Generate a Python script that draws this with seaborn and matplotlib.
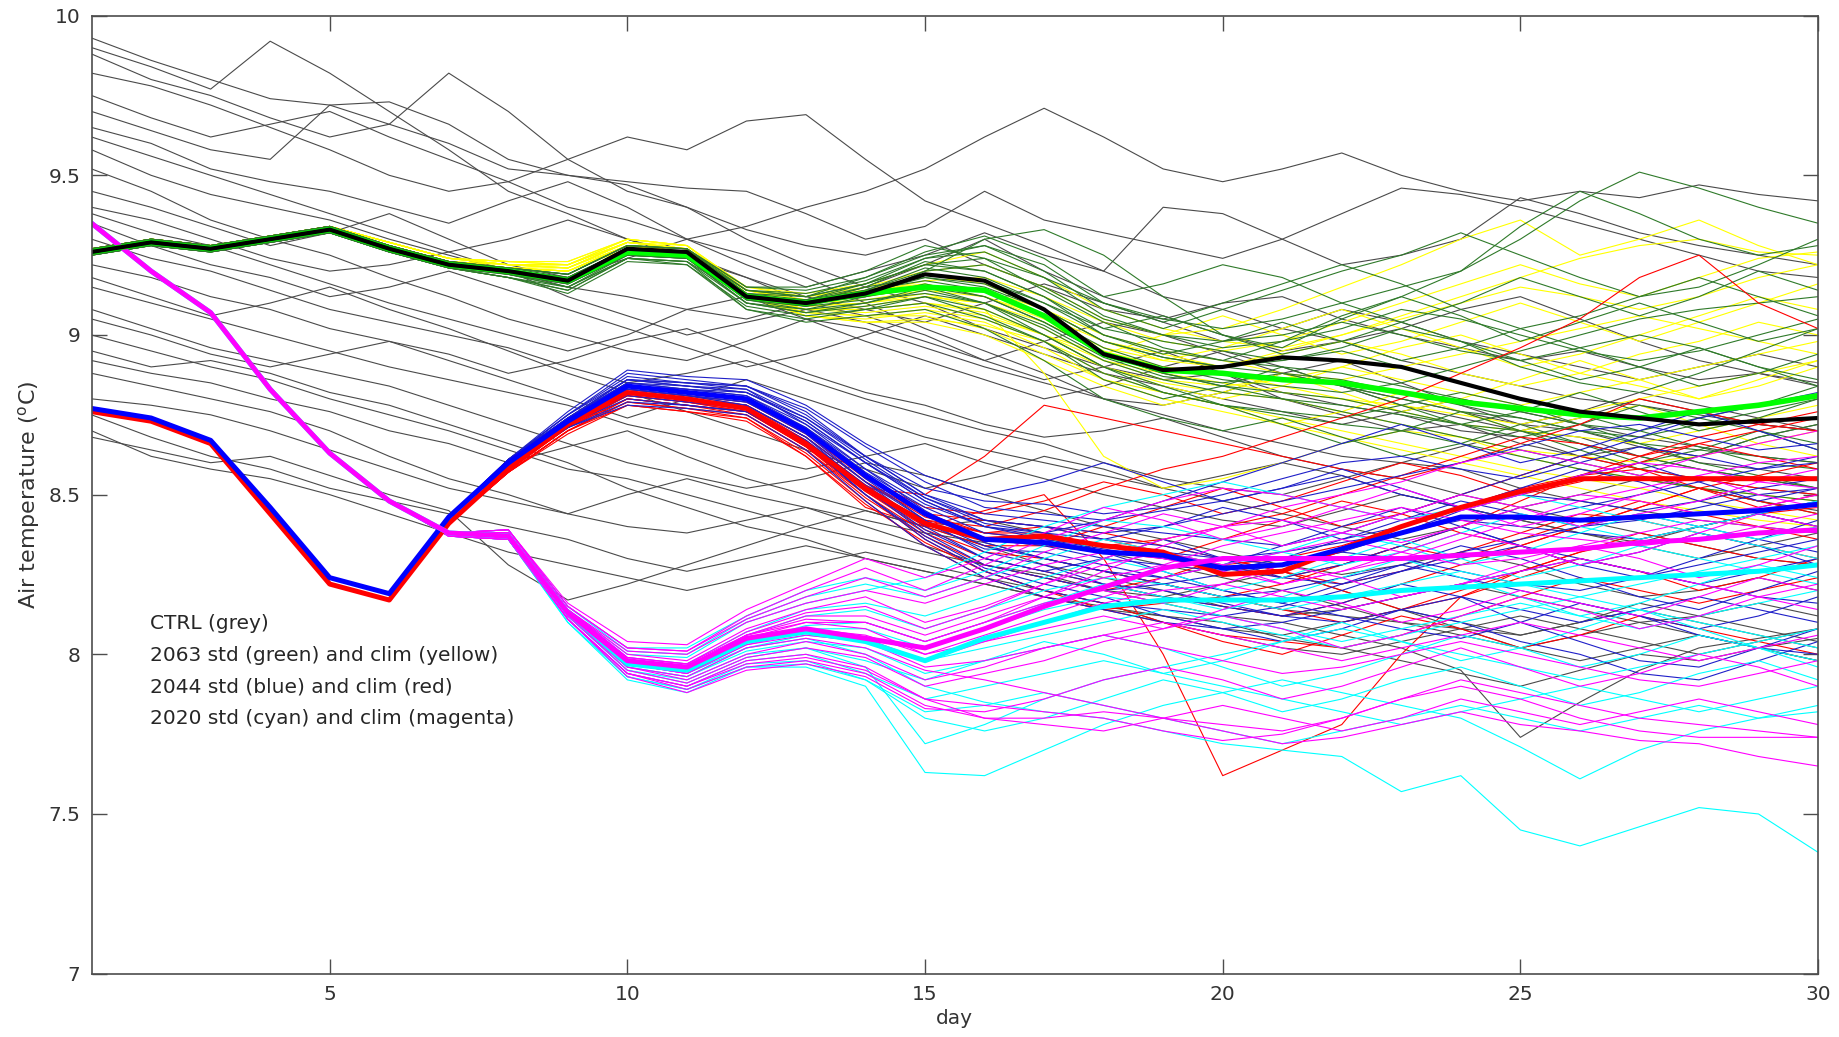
import pandas as pd
import matplotlib
matplotlib.use('Agg')
import matplotlib.pyplot as plt
import seaborn as sns

days = list(range(1, 31))

# CTRL ensemble (grey)
ctrl_runs = [
    [9.93, 9.86, 9.80, 9.74, 9.72, 9.73, 9.66, 9.55, 9.50, 9.47, 9.40, 9.30, 9.22, 9.15, 9.10, 9.02, 8.96, 8.90, 8.86, 8.88, 8.80, 8.75, 8.70, 8.72, 8.66, 8.62, 8.65, 8.60, 8.58, 8.55],
    [9.90, 9.84, 9.77, 9.92, 9.82, 9.70, 9.58, 9.45, 9.38, 9.30, 9.25, 9.18, 9.10, 9.06, 9.00, 8.92, 8.86, 8.90, 8.95, 8.88, 8.82, 8.78, 8.75, 8.70, 8.68, 8.62, 8.58, 8.55, 8.52, 8.50],
    [9.88, 9.80, 9.75, 9.68, 9.62, 9.66, 9.82, 9.70, 9.55, 9.45, 9.40, 9.33, 9.28, 9.25, 9.30, 9.22, 9.15, 9.08, 9.05, 9.10, 9.12, 9.05, 9.00, 8.96, 8.92, 8.95, 8.90, 8.86, 8.88, 8.84],
    [9.82, 9.78, 9.72, 9.65, 9.58, 9.50, 9.45, 9.48, 9.55, 9.62, 9.58, 9.67, 9.69, 9.55, 9.42, 9.35, 9.28, 9.20, 9.12, 9.08, 9.02, 8.98, 8.92, 8.88, 8.84, 8.80, 8.78, 8.75, 8.72, 8.70],
    [9.75, 9.68, 9.62, 9.66, 9.70, 9.62, 9.55, 9.48, 9.40, 9.36, 9.30, 9.34, 9.40, 9.45, 9.52, 9.62, 9.71, 9.62, 9.52, 9.48, 9.52, 9.57, 9.50, 9.45, 9.42, 9.45, 9.43, 9.47, 9.44, 9.42],
    [9.70, 9.64, 9.58, 9.55, 9.72, 9.66, 9.60, 9.52, 9.50, 9.48, 9.46, 9.45, 9.38, 9.30, 9.34, 9.45, 9.36, 9.32, 9.28, 9.24, 9.30, 9.38, 9.46, 9.44, 9.40, 9.35, 9.30, 9.25, 9.20, 9.18],
    [9.65, 9.60, 9.52, 9.48, 9.45, 9.40, 9.35, 9.42, 9.48, 9.40, 9.30, 9.22, 9.15, 9.20, 9.25, 9.32, 9.25, 9.20, 9.40, 9.38, 9.30, 9.22, 9.25, 9.30, 9.43, 9.38, 9.32, 9.28, 9.25, 9.22],
    [9.58, 9.50, 9.44, 9.40, 9.36, 9.30, 9.25, 9.20, 9.15, 9.12, 9.08, 9.05, 9.10, 9.15, 9.22, 9.30, 9.20, 9.12, 9.06, 9.00, 8.95, 8.98, 9.02, 9.08, 9.12, 9.05, 8.98, 8.92, 8.88, 8.85],
    [9.52, 9.45, 9.36, 9.30, 9.25, 9.18, 9.12, 9.05, 9.00, 8.95, 8.92, 8.98, 9.05, 9.02, 8.96, 8.90, 8.85, 8.80, 8.78, 8.82, 8.88, 8.92, 8.85, 8.78, 8.72, 8.70, 8.65, 8.62, 8.68, 8.72],
    [9.45, 9.40, 9.34, 9.28, 9.32, 9.38, 9.30, 9.22, 9.18, 9.24, 9.30, 9.25, 9.18, 9.10, 9.02, 8.95, 8.88, 8.80, 8.75, 8.70, 8.66, 8.62, 8.60, 8.65, 8.70, 8.68, 8.62, 8.58, 8.55, 8.52],
    [9.38, 9.32, 9.28, 9.22, 9.16, 9.10, 9.05, 9.00, 8.95, 9.00, 9.08, 9.12, 9.05, 8.98, 8.92, 8.86, 8.80, 8.84, 8.90, 8.95, 8.90, 8.84, 8.78, 8.74, 8.70, 8.74, 8.80, 8.76, 8.72, 8.70],
    [9.30, 9.24, 9.20, 9.14, 9.08, 9.04, 9.00, 8.96, 8.90, 8.85, 8.88, 8.92, 8.86, 8.80, 8.75, 8.70, 8.66, 8.60, 8.55, 8.52, 8.50, 8.55, 8.60, 8.58, 8.52, 8.48, 8.45, 8.42, 8.40, 8.38],
    [9.22, 9.18, 9.12, 9.08, 9.02, 8.98, 8.94, 8.88, 8.92, 8.98, 9.02, 8.95, 8.88, 8.82, 8.78, 8.72, 8.68, 8.70, 8.74, 8.68, 8.62, 8.58, 8.55, 8.50, 8.46, 8.50, 8.55, 8.52, 8.48, 8.45],
    [9.15, 9.10, 9.05, 9.00, 8.95, 8.90, 8.86, 8.82, 8.78, 8.72, 8.68, 8.62, 8.58, 8.62, 8.66, 8.60, 8.55, 8.50, 8.46, 8.42, 8.40, 8.45, 8.50, 8.46, 8.42, 8.38, 8.35, 8.40, 8.44, 8.40],
    [9.08, 9.02, 8.96, 8.92, 8.88, 8.84, 8.78, 8.72, 8.66, 8.60, 8.56, 8.52, 8.55, 8.60, 8.56, 8.50, 8.45, 8.40, 8.36, 8.32, 8.28, 8.25, 8.28, 8.32, 8.28, 8.22, 8.18, 8.20, 8.24, 8.20],
    [9.00, 8.95, 8.90, 8.86, 8.80, 8.75, 8.70, 8.64, 8.58, 8.55, 8.50, 8.45, 8.40, 8.36, 8.32, 8.28, 8.25, 8.20, 8.18, 8.22, 8.26, 8.20, 8.14, 8.10, 8.06, 8.10, 8.14, 8.10, 8.06, 8.02],
    [8.95, 8.90, 8.92, 8.88, 8.82, 8.78, 8.72, 8.66, 8.60, 8.52, 8.46, 8.40, 8.36, 8.30, 8.26, 8.22, 8.18, 8.15, 8.12, 8.10, 8.05, 8.02, 7.98, 7.94, 7.90, 7.95, 8.00, 7.98, 8.02, 8.05],
    [8.92, 8.88, 8.85, 8.80, 8.76, 8.70, 8.66, 8.60, 8.65, 8.70, 8.62, 8.55, 8.50, 8.45, 8.40, 8.42, 8.38, 8.32, 8.28, 8.24, 8.20, 8.15, 8.10, 8.06, 8.02, 8.06, 8.10, 8.06, 8.02, 7.98],
    [8.88, 8.84, 8.80, 8.76, 8.70, 8.62, 8.55, 8.50, 8.44, 8.40, 8.38, 8.42, 8.46, 8.40, 8.34, 8.28, 8.24, 8.20, 8.16, 8.12, 8.10, 8.06, 8.02, 7.95, 7.74, 7.85, 7.95, 8.02, 8.05, 8.08],
    [8.80, 8.78, 8.75, 8.70, 8.64, 8.58, 8.52, 8.48, 8.44, 8.50, 8.55, 8.50, 8.46, 8.42, 8.38, 8.35, 8.30, 8.26, 8.22, 8.18, 8.14, 8.12, 8.10, 8.08, 8.06, 8.10, 8.16, 8.12, 8.08, 8.04],
    [8.75, 8.68, 8.62, 8.58, 8.52, 8.48, 8.44, 8.40, 8.36, 8.30, 8.26, 8.30, 8.34, 8.30, 8.26, 8.22, 8.18, 8.14, 8.12, 8.08, 8.06, 8.10, 8.14, 8.08, 8.02, 7.98, 8.02, 8.06, 8.02, 7.98],
    [8.70, 8.62, 8.58, 8.55, 8.50, 8.44, 8.38, 8.32, 8.28, 8.24, 8.20, 8.24, 8.28, 8.32, 8.28, 8.24, 8.20, 8.16, 8.10, 8.06, 8.02, 8.00, 8.04, 8.08, 8.12, 8.08, 8.04, 8.00, 8.04, 8.08],
    [8.68, 8.64, 8.60, 8.62, 8.56, 8.50, 8.45, 8.28, 8.17, 8.22, 8.28, 8.34, 8.40, 8.45, 8.40, 8.34, 8.28, 8.24, 8.20, 8.15, 8.12, 8.14, 8.18, 8.22, 8.18, 8.14, 8.10, 8.12, 8.16, 8.12],
    [9.35, 9.28, 9.22, 9.18, 9.12, 9.15, 9.20, 9.14, 9.08, 9.02, 8.96, 8.90, 8.94, 9.00, 9.06, 9.00, 8.94, 8.88, 8.84, 8.80, 8.76, 8.72, 8.76, 8.80, 8.76, 8.72, 8.68, 8.65, 8.62, 8.60],
    [9.18, 9.12, 9.06, 9.10, 9.15, 9.08, 9.02, 8.95, 8.88, 8.82, 8.76, 8.70, 8.64, 8.58, 8.52, 8.56, 8.62, 8.58, 8.52, 8.48, 8.44, 8.40, 8.36, 8.40, 8.46, 8.42, 8.38, 8.34, 8.30, 8.28],
    [9.05, 9.00, 8.94, 8.90, 8.94, 8.98, 8.92, 8.86, 8.80, 8.74, 8.80, 8.86, 8.80, 8.74, 8.68, 8.64, 8.60, 8.56, 8.52, 8.56, 8.60, 8.56, 8.50, 8.46, 8.42, 8.38, 8.34, 8.30, 8.34, 8.38],
    [9.62, 9.56, 9.50, 9.44, 9.38, 9.32, 9.26, 9.30, 9.36, 9.30, 9.24, 9.18, 9.12, 9.08, 9.04, 9.10, 9.16, 9.10, 9.04, 8.98, 9.02, 9.08, 9.04, 8.98, 8.94, 8.90, 8.86, 8.90, 8.94, 8.90],
    [9.40, 9.36, 9.30, 9.24, 9.20, 9.22, 9.26, 9.20, 9.12, 9.06, 9.00, 9.04, 9.08, 9.04, 8.98, 8.92, 8.98, 9.04, 9.00, 8.94, 8.88, 8.84, 8.80, 8.76, 8.72, 8.76, 8.82, 8.78, 8.74, 8.70],
]

# 2063 std (green) and clim (yellow)
std_2063_runs = [
    [9.27, 9.30, 9.28, 9.31, 9.34, 9.28, 9.23, 9.21, 9.19, 9.28, 9.27, 9.15, 9.14, 9.18, 9.25, 9.28, 9.22, 9.10, 9.05, 9.02, 9.05, 9.10, 9.15, 9.20, 9.30, 9.42, 9.51, 9.46, 9.40, 9.35],
    [9.26, 9.29, 9.27, 9.30, 9.33, 9.27, 9.22, 9.19, 9.16, 9.25, 9.24, 9.10, 9.08, 9.12, 9.20, 9.30, 9.33, 9.25, 9.12, 9.00, 8.96, 9.05, 9.12, 9.20, 9.34, 9.45, 9.38, 9.30, 9.25, 9.28],
    [9.25, 9.28, 9.26, 9.29, 9.32, 9.26, 9.21, 9.18, 9.14, 9.24, 9.23, 9.08, 9.05, 9.08, 9.12, 9.08, 9.00, 8.90, 8.82, 8.78, 8.75, 8.72, 8.70, 8.66, 8.62, 8.58, 8.55, 8.52, 8.50, 8.48],
    [9.27, 9.30, 9.28, 9.31, 9.34, 9.28, 9.23, 9.20, 9.18, 9.27, 9.26, 9.14, 9.12, 9.16, 9.22, 9.20, 9.12, 9.02, 8.98, 8.95, 8.92, 8.96, 9.02, 8.98, 8.90, 8.85, 8.82, 8.88, 8.95, 9.02],
    [9.26, 9.29, 9.27, 9.30, 9.33, 9.27, 9.22, 9.20, 9.17, 9.26, 9.25, 9.11, 9.08, 9.10, 9.14, 9.10, 9.02, 8.92, 8.86, 8.82, 8.80, 8.78, 8.75, 8.72, 8.68, 8.72, 8.78, 8.74, 8.70, 8.66],
    [9.25, 9.28, 9.26, 9.29, 9.32, 9.26, 9.21, 9.19, 9.15, 9.25, 9.24, 9.12, 9.11, 9.15, 9.18, 9.15, 9.08, 8.98, 8.93, 8.90, 8.92, 8.95, 8.90, 8.85, 8.80, 8.75, 8.70, 8.65, 8.60, 8.58],
    [9.26, 9.29, 9.27, 9.30, 9.33, 9.27, 9.22, 9.20, 9.18, 9.27, 9.26, 9.13, 9.11, 9.14, 9.17, 9.14, 9.06, 8.96, 8.90, 8.86, 8.84, 8.82, 8.85, 8.90, 8.95, 9.00, 9.05, 9.08, 9.10, 9.12],
    [9.27, 9.30, 9.28, 9.31, 9.34, 9.28, 9.23, 9.21, 9.19, 9.28, 9.27, 9.13, 9.10, 9.12, 9.16, 9.12, 9.04, 8.94, 8.88, 8.84, 8.80, 8.76, 8.72, 8.68, 8.64, 8.60, 8.56, 8.52, 8.48, 8.44],
    [9.26, 9.29, 9.27, 9.30, 9.33, 9.27, 9.22, 9.19, 9.16, 9.26, 9.25, 9.12, 9.10, 9.14, 9.20, 9.22, 9.15, 9.05, 9.00, 8.98, 9.00, 9.04, 9.00, 8.95, 8.92, 8.96, 9.00, 8.96, 8.90, 8.86],
    [9.25, 9.28, 9.26, 9.29, 9.32, 9.26, 9.21, 9.18, 9.13, 9.23, 9.22, 9.09, 9.06, 9.08, 9.10, 9.05, 8.98, 8.88, 8.82, 8.78, 8.76, 8.74, 8.78, 8.82, 8.78, 8.72, 8.66, 8.60, 8.56, 8.52],
    [9.26, 9.29, 9.27, 9.30, 9.33, 9.27, 9.22, 9.20, 9.17, 9.26, 9.25, 9.13, 9.12, 9.16, 9.24, 9.28, 9.20, 9.08, 9.02, 9.08, 9.14, 9.20, 9.25, 9.32, 9.25, 9.18, 9.12, 9.15, 9.22, 9.30],
    [9.27, 9.30, 9.28, 9.31, 9.34, 9.28, 9.23, 9.21, 9.18, 9.27, 9.26, 9.12, 9.09, 9.11, 9.13, 9.10, 9.03, 8.93, 8.87, 8.85, 8.88, 8.84, 8.80, 8.76, 8.74, 8.70, 8.68, 8.72, 8.76, 8.80],
    [9.26, 9.29, 9.27, 9.30, 9.33, 9.27, 9.22, 9.20, 9.17, 9.26, 9.25, 9.11, 9.09, 9.13, 9.19, 9.17, 9.10, 9.00, 8.95, 8.92, 8.90, 8.88, 8.84, 8.80, 8.76, 8.72, 8.70, 8.74, 8.78, 8.84],
    [9.25, 9.28, 9.26, 9.29, 9.32, 9.26, 9.21, 9.18, 9.15, 9.24, 9.23, 9.10, 9.07, 9.10, 9.15, 9.12, 9.04, 8.94, 8.88, 8.84, 8.82, 8.80, 8.76, 8.72, 8.70, 8.66, 8.62, 8.58, 8.55, 8.52],
    [9.26, 9.29, 9.27, 9.30, 9.33, 9.27, 9.22, 9.20, 9.17, 9.26, 9.25, 9.12, 9.10, 9.13, 9.18, 9.16, 9.08, 8.98, 8.93, 8.90, 8.88, 8.86, 8.82, 8.78, 8.74, 8.70, 8.66, 8.64, 8.62, 8.60],
    [9.27, 9.30, 9.28, 9.31, 9.34, 9.28, 9.23, 9.21, 9.19, 9.28, 9.27, 9.14, 9.13, 9.17, 9.24, 9.26, 9.18, 9.06, 9.00, 8.96, 8.98, 9.02, 9.08, 9.05, 9.00, 8.95, 8.92, 8.95, 9.00, 9.05],
    [9.26, 9.29, 9.27, 9.30, 9.33, 9.27, 9.22, 9.20, 9.17, 9.27, 9.26, 9.14, 9.12, 9.18, 9.26, 9.31, 9.24, 9.12, 9.16, 9.22, 9.18, 9.10, 9.04, 9.10, 9.18, 9.12, 9.06, 9.12, 9.20, 9.14],
    [9.25, 9.28, 9.26, 9.29, 9.32, 9.26, 9.21, 9.18, 9.14, 9.24, 9.22, 9.08, 9.04, 9.06, 9.08, 9.02, 8.92, 8.80, 8.74, 8.70, 8.74, 8.68, 8.62, 8.66, 8.72, 8.66, 8.60, 8.64, 8.70, 8.64],
    [9.26, 9.29, 9.27, 9.30, 9.33, 9.27, 9.22, 9.19, 9.16, 9.25, 9.24, 9.11, 9.09, 9.14, 9.21, 9.18, 9.10, 9.02, 9.06, 9.00, 8.94, 8.98, 9.04, 8.98, 8.92, 8.86, 8.90, 8.96, 8.90, 8.84],
    [9.27, 9.30, 9.28, 9.31, 9.34, 9.28, 9.23, 9.21, 9.19, 9.28, 9.27, 9.15, 9.15, 9.20, 9.28, 9.24, 9.14, 9.04, 8.96, 8.92, 8.98, 9.06, 9.12, 9.06, 8.98, 9.04, 9.10, 9.04, 8.98, 9.02],
    [9.26, 9.29, 9.27, 9.30, 9.33, 9.27, 9.22, 9.20, 9.16, 9.25, 9.24, 9.10, 9.07, 9.09, 9.12, 9.06, 8.98, 8.86, 8.80, 8.84, 8.90, 8.84, 8.78, 8.72, 8.76, 8.82, 8.76, 8.70, 8.74, 8.80],
    [9.25, 9.28, 9.26, 9.29, 9.32, 9.26, 9.21, 9.19, 9.15, 9.24, 9.23, 9.12, 9.11, 9.16, 9.22, 9.24, 9.18, 9.10, 9.04, 9.10, 9.16, 9.22, 9.16, 9.08, 9.02, 9.06, 9.12, 9.18, 9.12, 9.06],
    [9.27, 9.30, 9.28, 9.31, 9.34, 9.28, 9.23, 9.20, 9.18, 9.27, 9.26, 9.13, 9.10, 9.12, 9.15, 9.10, 9.00, 8.90, 8.84, 8.78, 8.72, 8.66, 8.70, 8.76, 8.70, 8.64, 8.58, 8.62, 8.68, 8.72],
    [9.26, 9.29, 9.27, 9.30, 9.33, 9.27, 9.22, 9.20, 9.17, 9.26, 9.25, 9.12, 9.10, 9.15, 9.23, 9.20, 9.12, 9.00, 8.94, 8.98, 9.04, 8.98, 8.92, 8.96, 9.02, 8.96, 8.90, 8.84, 8.88, 8.94],
]
clim_2063_runs = [
    [9.27, 9.30, 9.28, 9.31, 9.34, 9.29, 9.24, 9.22, 9.22, 9.29, 9.27, 9.14, 9.12, 9.15, 9.20, 9.22, 9.15, 9.05, 9.00, 9.02, 9.08, 9.15, 9.22, 9.30, 9.36, 9.25, 9.30, 9.36, 9.28, 9.22],
    [9.26, 9.29, 9.27, 9.30, 9.33, 9.28, 9.23, 9.21, 9.20, 9.28, 9.26, 9.12, 9.08, 9.08, 9.10, 9.08, 8.88, 8.62, 8.52, 8.55, 8.60, 8.66, 8.70, 8.68, 8.62, 8.58, 8.55, 8.52, 8.50, 8.48],
    [9.27, 9.30, 9.28, 9.31, 9.34, 9.29, 9.24, 9.23, 9.23, 9.30, 9.28, 9.15, 9.12, 9.14, 9.16, 9.12, 9.05, 8.96, 8.92, 8.90, 8.95, 9.00, 9.05, 9.10, 9.15, 9.12, 9.08, 9.12, 9.18, 9.22],
    [9.26, 9.29, 9.27, 9.30, 9.33, 9.28, 9.23, 9.21, 9.21, 9.28, 9.27, 9.13, 9.06, 9.04, 9.05, 9.03, 8.98, 8.90, 8.85, 8.82, 8.80, 8.76, 8.72, 8.68, 8.64, 8.62, 8.60, 8.62, 8.66, 8.70],
    [9.27, 9.30, 9.28, 9.31, 9.34, 9.29, 9.24, 9.22, 9.22, 9.29, 9.28, 9.14, 9.10, 9.12, 9.15, 9.14, 9.08, 9.00, 8.95, 8.92, 8.88, 8.86, 8.90, 8.94, 8.98, 9.02, 9.06, 9.02, 8.98, 8.94],
    [9.26, 9.29, 9.27, 9.30, 9.33, 9.28, 9.23, 9.21, 9.20, 9.27, 9.26, 9.12, 9.07, 9.06, 9.08, 9.05, 8.98, 8.88, 8.82, 8.78, 8.74, 8.70, 8.66, 8.62, 8.58, 8.55, 8.52, 8.48, 8.45, 8.42],
    [9.27, 9.30, 9.28, 9.31, 9.34, 9.29, 9.24, 9.23, 9.22, 9.30, 9.28, 9.15, 9.13, 9.16, 9.22, 9.26, 9.18, 9.08, 9.02, 8.98, 8.96, 9.00, 9.06, 9.12, 9.18, 9.24, 9.28, 9.30, 9.26, 9.25],
    [9.26, 9.29, 9.27, 9.30, 9.33, 9.28, 9.23, 9.22, 9.21, 9.29, 9.27, 9.13, 9.08, 9.07, 9.09, 9.06, 9.00, 8.92, 8.88, 8.85, 8.82, 8.80, 8.78, 8.75, 8.72, 8.76, 8.80, 8.84, 8.88, 8.92],
    [9.27, 9.30, 9.28, 9.31, 9.34, 9.29, 9.24, 9.22, 9.21, 9.29, 9.27, 9.13, 9.09, 9.10, 9.12, 9.10, 9.02, 8.92, 8.86, 8.84, 8.86, 8.90, 8.86, 8.82, 8.78, 8.82, 8.86, 8.90, 8.94, 8.98],
    [9.26, 9.29, 9.27, 9.30, 9.33, 9.28, 9.23, 9.21, 9.20, 9.28, 9.26, 9.12, 9.06, 9.05, 9.07, 9.04, 8.96, 8.86, 8.80, 8.76, 8.72, 8.68, 8.64, 8.60, 8.56, 8.52, 8.48, 8.45, 8.42, 8.40],
    [9.27, 9.30, 9.28, 9.31, 9.34, 9.29, 9.24, 9.23, 9.23, 9.30, 9.28, 9.14, 9.11, 9.13, 9.17, 9.18, 9.12, 9.04, 8.98, 8.95, 8.98, 9.04, 9.10, 9.16, 9.22, 9.16, 9.12, 9.18, 9.24, 9.26],
    [9.26, 9.29, 9.27, 9.30, 9.33, 9.28, 9.23, 9.21, 9.20, 9.28, 9.27, 9.13, 9.08, 9.09, 9.12, 9.10, 9.04, 8.95, 8.90, 8.88, 8.84, 8.80, 8.76, 8.72, 8.70, 8.68, 8.66, 8.70, 8.74, 8.78],
    [9.27, 9.30, 9.28, 9.31, 9.34, 9.29, 9.24, 9.22, 9.22, 9.29, 9.27, 9.13, 9.09, 9.10, 9.13, 9.08, 9.00, 8.94, 9.00, 9.06, 9.00, 8.94, 8.98, 9.04, 9.10, 9.04, 8.98, 9.04, 9.10, 9.16],
    [9.26, 9.29, 9.27, 9.30, 9.33, 9.28, 9.23, 9.21, 9.20, 9.28, 9.26, 9.12, 9.06, 9.04, 9.04, 9.00, 8.92, 8.84, 8.78, 8.82, 8.88, 8.82, 8.76, 8.80, 8.86, 8.92, 8.86, 8.80, 8.84, 8.90],
    [9.27, 9.30, 9.28, 9.31, 9.34, 9.29, 9.24, 9.22, 9.21, 9.29, 9.27, 9.14, 9.11, 9.14, 9.19, 9.16, 9.08, 8.98, 8.92, 8.96, 9.02, 9.08, 9.02, 8.96, 8.90, 8.94, 9.00, 9.06, 9.12, 9.08],
    [9.26, 9.29, 9.27, 9.30, 9.33, 9.28, 9.23, 9.21, 9.20, 9.28, 9.27, 9.12, 9.07, 9.06, 9.06, 9.02, 8.94, 8.86, 8.82, 8.78, 8.72, 8.76, 8.82, 8.76, 8.70, 8.74, 8.78, 8.72, 8.66, 8.62],
    [9.27, 9.30, 9.28, 9.31, 9.34, 9.29, 9.24, 9.23, 9.22, 9.30, 9.28, 9.14, 9.10, 9.11, 9.14, 9.12, 9.06, 8.98, 8.94, 8.90, 8.94, 8.98, 8.94, 8.88, 8.84, 8.88, 8.94, 8.98, 9.04, 9.00],
    [9.26, 9.29, 9.27, 9.30, 9.33, 9.28, 9.23, 9.22, 9.21, 9.29, 9.27, 9.13, 9.08, 9.08, 9.10, 9.07, 9.00, 8.90, 8.84, 8.80, 8.84, 8.90, 8.96, 9.00, 8.94, 8.88, 8.84, 8.80, 8.86, 8.92],
]

# 2044 std (blue) and clim (red)
std_2044_runs = [
    [8.77, 8.74, 8.67, 8.46, 8.24, 8.19, 8.43, 8.61, 8.75, 8.88, 8.86, 8.84, 8.76, 8.62, 8.52, 8.48, 8.47, 8.44, 8.46, 8.50, 8.55, 8.60, 8.62, 8.58, 8.55, 8.60, 8.65, 8.62, 8.58, 8.60],
    [8.77, 8.74, 8.67, 8.46, 8.24, 8.19, 8.43, 8.60, 8.73, 8.84, 8.82, 8.80, 8.70, 8.55, 8.42, 8.32, 8.28, 8.22, 8.18, 8.15, 8.12, 8.10, 8.14, 8.18, 8.10, 8.04, 7.98, 7.96, 8.02, 8.08],
    [8.77, 8.74, 8.67, 8.46, 8.24, 8.19, 8.43, 8.60, 8.74, 8.86, 8.84, 8.82, 8.73, 8.60, 8.48, 8.40, 8.38, 8.36, 8.34, 8.30, 8.28, 8.32, 8.38, 8.45, 8.50, 8.48, 8.45, 8.48, 8.52, 8.55],
    [8.77, 8.74, 8.67, 8.46, 8.24, 8.19, 8.43, 8.59, 8.72, 8.82, 8.80, 8.78, 8.68, 8.52, 8.38, 8.28, 8.24, 8.20, 8.22, 8.25, 8.28, 8.32, 8.30, 8.26, 8.22, 8.20, 8.24, 8.28, 8.32, 8.36],
    [8.77, 8.74, 8.67, 8.46, 8.24, 8.19, 8.43, 8.60, 8.73, 8.84, 8.83, 8.82, 8.74, 8.62, 8.50, 8.42, 8.40, 8.38, 8.40, 8.44, 8.48, 8.52, 8.56, 8.60, 8.65, 8.70, 8.72, 8.68, 8.64, 8.66],
    [8.77, 8.74, 8.67, 8.46, 8.24, 8.19, 8.43, 8.61, 8.74, 8.85, 8.84, 8.83, 8.72, 8.58, 8.45, 8.35, 8.30, 8.26, 8.24, 8.20, 8.16, 8.12, 8.08, 8.05, 8.10, 8.16, 8.12, 8.06, 8.02, 8.00],
    [8.77, 8.74, 8.67, 8.46, 8.24, 8.19, 8.43, 8.60, 8.73, 8.83, 8.81, 8.79, 8.70, 8.56, 8.44, 8.36, 8.34, 8.30, 8.28, 8.26, 8.30, 8.36, 8.42, 8.48, 8.44, 8.40, 8.42, 8.46, 8.50, 8.52],
    [8.77, 8.74, 8.67, 8.46, 8.24, 8.19, 8.43, 8.59, 8.72, 8.80, 8.78, 8.76, 8.66, 8.50, 8.36, 8.26, 8.20, 8.16, 8.14, 8.12, 8.15, 8.20, 8.26, 8.32, 8.36, 8.40, 8.44, 8.40, 8.36, 8.32],
    [8.77, 8.74, 8.67, 8.46, 8.24, 8.19, 8.43, 8.61, 8.75, 8.87, 8.85, 8.84, 8.75, 8.62, 8.50, 8.44, 8.42, 8.40, 8.38, 8.36, 8.34, 8.38, 8.44, 8.50, 8.56, 8.62, 8.68, 8.74, 8.78, 8.82],
    [8.77, 8.74, 8.67, 8.46, 8.24, 8.19, 8.43, 8.60, 8.73, 8.84, 8.82, 8.80, 8.71, 8.57, 8.46, 8.38, 8.36, 8.33, 8.30, 8.27, 8.24, 8.22, 8.26, 8.30, 8.34, 8.30, 8.26, 8.22, 8.18, 8.16],
    [8.77, 8.74, 8.67, 8.46, 8.24, 8.19, 8.43, 8.60, 8.74, 8.85, 8.83, 8.81, 8.72, 8.60, 8.48, 8.40, 8.37, 8.34, 8.32, 8.30, 8.32, 8.35, 8.38, 8.42, 8.40, 8.38, 8.36, 8.40, 8.44, 8.48],
    [8.77, 8.74, 8.67, 8.46, 8.24, 8.19, 8.43, 8.60, 8.73, 8.83, 8.81, 8.78, 8.68, 8.54, 8.42, 8.34, 8.30, 8.26, 8.22, 8.18, 8.20, 8.24, 8.28, 8.24, 8.20, 8.16, 8.12, 8.08, 8.12, 8.18],
    [8.77, 8.74, 8.67, 8.46, 8.24, 8.19, 8.43, 8.61, 8.74, 8.86, 8.85, 8.84, 8.77, 8.65, 8.54, 8.46, 8.44, 8.42, 8.45, 8.48, 8.52, 8.56, 8.50, 8.46, 8.42, 8.46, 8.50, 8.54, 8.58, 8.62],
    [8.77, 8.74, 8.67, 8.46, 8.24, 8.19, 8.43, 8.59, 8.71, 8.78, 8.77, 8.75, 8.64, 8.48, 8.34, 8.24, 8.18, 8.14, 8.10, 8.08, 8.10, 8.14, 8.18, 8.22, 8.26, 8.30, 8.26, 8.22, 8.26, 8.30],
    [8.77, 8.74, 8.67, 8.46, 8.24, 8.19, 8.43, 8.61, 8.76, 8.89, 8.87, 8.86, 8.78, 8.66, 8.56, 8.50, 8.54, 8.60, 8.54, 8.48, 8.52, 8.58, 8.52, 8.46, 8.50, 8.56, 8.60, 8.54, 8.48, 8.52],
    [8.77, 8.74, 8.67, 8.46, 8.24, 8.19, 8.43, 8.60, 8.73, 8.83, 8.81, 8.79, 8.69, 8.54, 8.40, 8.30, 8.26, 8.30, 8.36, 8.30, 8.24, 8.28, 8.34, 8.40, 8.34, 8.28, 8.32, 8.38, 8.34, 8.28],
    [8.77, 8.74, 8.67, 8.46, 8.24, 8.19, 8.43, 8.59, 8.71, 8.79, 8.78, 8.76, 8.66, 8.50, 8.37, 8.27, 8.22, 8.18, 8.12, 8.08, 8.04, 8.08, 8.14, 8.10, 8.04, 8.00, 7.94, 7.92, 7.98, 8.04],
    [8.77, 8.74, 8.67, 8.46, 8.24, 8.19, 8.43, 8.61, 8.75, 8.86, 8.85, 8.83, 8.74, 8.61, 8.49, 8.41, 8.38, 8.42, 8.48, 8.54, 8.60, 8.66, 8.72, 8.66, 8.60, 8.64, 8.70, 8.76, 8.70, 8.64],
    [8.77, 8.74, 8.67, 8.46, 8.24, 8.19, 8.43, 8.60, 8.72, 8.82, 8.80, 8.77, 8.67, 8.53, 8.41, 8.33, 8.32, 8.28, 8.24, 8.28, 8.34, 8.40, 8.46, 8.40, 8.34, 8.28, 8.24, 8.30, 8.36, 8.42],
    [8.77, 8.74, 8.67, 8.46, 8.24, 8.19, 8.43, 8.60, 8.74, 8.85, 8.83, 8.81, 8.71, 8.58, 8.47, 8.40, 8.36, 8.32, 8.26, 8.20, 8.16, 8.22, 8.28, 8.34, 8.30, 8.24, 8.18, 8.14, 8.20, 8.26],
    [8.77, 8.74, 8.67, 8.46, 8.24, 8.19, 8.43, 8.61, 8.74, 8.86, 8.84, 8.82, 8.73, 8.60, 8.49, 8.42, 8.40, 8.36, 8.40, 8.46, 8.42, 8.36, 8.40, 8.46, 8.52, 8.58, 8.54, 8.48, 8.44, 8.40],
    [8.77, 8.74, 8.67, 8.46, 8.24, 8.19, 8.43, 8.59, 8.72, 8.81, 8.79, 8.77, 8.67, 8.52, 8.39, 8.30, 8.26, 8.22, 8.20, 8.16, 8.12, 8.16, 8.22, 8.18, 8.14, 8.10, 8.14, 8.18, 8.14, 8.10],
]
clim_2044_runs = [
    [8.76, 8.73, 8.66, 8.44, 8.22, 8.17, 8.41, 8.58, 8.72, 8.82, 8.80, 8.77, 8.66, 8.52, 8.50, 8.62, 8.78, 8.74, 8.70, 8.66, 8.62, 8.58, 8.55, 8.60, 8.66, 8.72, 8.80, 8.76, 8.72, 8.70],
    [8.76, 8.73, 8.66, 8.44, 8.22, 8.17, 8.41, 8.57, 8.70, 8.79, 8.77, 8.74, 8.62, 8.46, 8.40, 8.45, 8.50, 8.30, 8.00, 7.62, 7.70, 7.78, 8.00, 8.18, 8.26, 8.32, 8.38, 8.34, 8.30, 8.28],
    [8.76, 8.73, 8.66, 8.44, 8.22, 8.17, 8.41, 8.58, 8.72, 8.82, 8.80, 8.77, 8.66, 8.52, 8.42, 8.40, 8.45, 8.52, 8.58, 8.62, 8.68, 8.74, 8.80, 8.88, 8.96, 9.05, 9.18, 9.25, 9.10, 9.02],
    [8.76, 8.73, 8.66, 8.44, 8.22, 8.17, 8.41, 8.58, 8.71, 8.80, 8.78, 8.75, 8.64, 8.50, 8.38, 8.30, 8.26, 8.22, 8.18, 8.15, 8.12, 8.16, 8.22, 8.28, 8.34, 8.40, 8.46, 8.52, 8.56, 8.60],
    [8.76, 8.73, 8.66, 8.44, 8.22, 8.17, 8.41, 8.58, 8.72, 8.83, 8.81, 8.78, 8.68, 8.54, 8.44, 8.38, 8.36, 8.34, 8.36, 8.40, 8.44, 8.50, 8.56, 8.62, 8.68, 8.66, 8.62, 8.66, 8.70, 8.74],
    [8.76, 8.73, 8.66, 8.44, 8.22, 8.17, 8.41, 8.57, 8.70, 8.80, 8.78, 8.76, 8.65, 8.50, 8.36, 8.26, 8.20, 8.14, 8.10, 8.06, 8.04, 8.02, 8.06, 8.12, 8.18, 8.24, 8.20, 8.16, 8.20, 8.24],
    [8.76, 8.73, 8.66, 8.44, 8.22, 8.17, 8.41, 8.58, 8.72, 8.81, 8.79, 8.76, 8.65, 8.51, 8.40, 8.34, 8.34, 8.32, 8.30, 8.28, 8.30, 8.34, 8.40, 8.46, 8.52, 8.56, 8.58, 8.55, 8.52, 8.50],
    [8.76, 8.73, 8.66, 8.44, 8.22, 8.17, 8.41, 8.58, 8.71, 8.81, 8.79, 8.77, 8.66, 8.52, 8.42, 8.38, 8.40, 8.38, 8.34, 8.30, 8.26, 8.22, 8.26, 8.32, 8.38, 8.44, 8.42, 8.38, 8.34, 8.30],
    [8.76, 8.73, 8.66, 8.44, 8.22, 8.17, 8.41, 8.58, 8.72, 8.82, 8.80, 8.78, 8.67, 8.53, 8.44, 8.42, 8.40, 8.36, 8.32, 8.28, 8.24, 8.28, 8.34, 8.40, 8.48, 8.56, 8.62, 8.68, 8.72, 8.76],
    [8.76, 8.73, 8.66, 8.44, 8.22, 8.17, 8.41, 8.57, 8.70, 8.78, 8.76, 8.74, 8.63, 8.48, 8.34, 8.24, 8.18, 8.14, 8.16, 8.18, 8.14, 8.10, 8.14, 8.20, 8.26, 8.32, 8.36, 8.40, 8.44, 8.46],
    [8.76, 8.73, 8.66, 8.44, 8.22, 8.17, 8.41, 8.58, 8.72, 8.83, 8.81, 8.79, 8.69, 8.55, 8.46, 8.44, 8.48, 8.54, 8.50, 8.44, 8.48, 8.54, 8.60, 8.56, 8.50, 8.54, 8.60, 8.66, 8.62, 8.58],
    [8.76, 8.73, 8.66, 8.44, 8.22, 8.17, 8.41, 8.57, 8.70, 8.79, 8.77, 8.75, 8.64, 8.49, 8.37, 8.28, 8.24, 8.20, 8.24, 8.30, 8.26, 8.20, 8.14, 8.18, 8.24, 8.30, 8.26, 8.20, 8.24, 8.30],
    [8.76, 8.73, 8.66, 8.44, 8.22, 8.17, 8.41, 8.58, 8.71, 8.81, 8.79, 8.76, 8.66, 8.52, 8.41, 8.36, 8.34, 8.40, 8.46, 8.52, 8.46, 8.40, 8.44, 8.50, 8.56, 8.62, 8.58, 8.52, 8.46, 8.50],
    [8.76, 8.73, 8.66, 8.44, 8.22, 8.17, 8.41, 8.57, 8.69, 8.78, 8.76, 8.73, 8.62, 8.47, 8.35, 8.26, 8.20, 8.16, 8.10, 8.04, 8.00, 8.06, 8.12, 8.08, 8.02, 8.06, 8.12, 8.08, 8.04, 8.00],
    [8.76, 8.73, 8.66, 8.44, 8.22, 8.17, 8.41, 8.58, 8.72, 8.82, 8.80, 8.78, 8.68, 8.54, 8.43, 8.38, 8.38, 8.34, 8.30, 8.36, 8.42, 8.48, 8.44, 8.38, 8.34, 8.40, 8.46, 8.52, 8.48, 8.44],
    [8.76, 8.73, 8.66, 8.44, 8.22, 8.17, 8.41, 8.58, 8.71, 8.80, 8.78, 8.76, 8.65, 8.51, 8.39, 8.32, 8.30, 8.26, 8.22, 8.18, 8.22, 8.28, 8.34, 8.30, 8.36, 8.42, 8.48, 8.44, 8.40, 8.36],
]

# 2020 std (cyan) and clim (magenta)
std_2020_runs = [
    [9.35, 9.20, 9.07, 8.83, 8.63, 8.48, 8.38, 8.38, 8.13, 7.97, 7.94, 8.02, 8.05, 8.00, 7.90, 7.85, 7.82, 7.80, 7.76, 7.72, 7.70, 7.68, 7.57, 7.62, 7.45, 7.40, 7.46, 7.52, 7.50, 7.38],
    [9.35, 9.20, 9.07, 8.83, 8.63, 8.48, 8.37, 8.36, 8.10, 7.92, 7.88, 7.96, 7.96, 7.90, 7.63, 7.62, 7.70, 7.78, 7.84, 7.88, 7.92, 7.88, 7.84, 7.80, 7.71, 7.61, 7.70, 7.76, 7.80, 7.82],
    [9.35, 9.20, 9.07, 8.83, 8.63, 8.48, 8.38, 8.39, 8.15, 8.02, 8.02, 8.12, 8.20, 8.24, 8.20, 8.26, 8.34, 8.42, 8.40, 8.36, 8.32, 8.28, 8.32, 8.38, 8.44, 8.40, 8.36, 8.40, 8.44, 8.48],
    [9.35, 9.20, 9.07, 8.83, 8.63, 8.48, 8.37, 8.37, 8.12, 7.95, 7.92, 8.00, 8.02, 7.96, 7.72, 7.78, 7.86, 7.92, 7.96, 8.00, 8.04, 8.08, 8.04, 8.00, 7.96, 7.92, 7.96, 8.00, 8.04, 8.08],
    [9.35, 9.20, 9.07, 8.83, 8.63, 8.48, 8.38, 8.38, 8.13, 7.98, 7.96, 8.06, 8.12, 8.14, 8.08, 8.14, 8.20, 8.24, 8.22, 8.18, 8.14, 8.18, 8.22, 8.26, 8.22, 8.18, 8.22, 8.26, 8.30, 8.34],
    [9.35, 9.20, 9.07, 8.83, 8.63, 8.48, 8.37, 8.36, 8.11, 7.94, 7.90, 7.98, 8.00, 7.94, 7.86, 7.90, 7.94, 7.98, 7.94, 7.90, 7.86, 7.82, 7.78, 7.82, 7.86, 7.90, 7.86, 7.82, 7.86, 7.90],
    [9.35, 9.20, 9.07, 8.83, 8.63, 8.48, 8.38, 8.39, 8.14, 8.00, 7.99, 8.10, 8.16, 8.20, 8.24, 8.32, 8.40, 8.46, 8.50, 8.54, 8.50, 8.46, 8.42, 8.46, 8.50, 8.46, 8.42, 8.38, 8.34, 8.30],
    [9.35, 9.20, 9.07, 8.83, 8.63, 8.48, 8.38, 8.37, 8.12, 7.96, 7.93, 8.02, 8.06, 8.04, 7.98, 8.02, 8.06, 8.10, 8.14, 8.10, 8.06, 8.02, 8.06, 8.10, 8.14, 8.18, 8.14, 8.10, 8.06, 8.02],
    [9.35, 9.20, 9.07, 8.83, 8.63, 8.48, 8.38, 8.38, 8.13, 7.98, 7.95, 8.04, 8.08, 8.08, 8.02, 8.08, 8.14, 8.18, 8.16, 8.12, 8.08, 8.04, 8.08, 8.12, 8.16, 8.12, 8.08, 8.12, 8.16, 8.20],
    [9.35, 9.20, 9.07, 8.83, 8.63, 8.48, 8.37, 8.36, 8.10, 7.93, 7.89, 7.97, 7.98, 7.92, 7.82, 7.84, 7.88, 7.84, 7.80, 7.76, 7.72, 7.76, 7.80, 7.84, 7.80, 7.76, 7.80, 7.84, 7.80, 7.84],
    [9.35, 9.20, 9.07, 8.83, 8.63, 8.48, 8.37, 8.37, 8.12, 7.95, 7.91, 7.99, 8.02, 7.98, 7.92, 7.98, 8.04, 8.00, 7.94, 7.98, 8.04, 8.10, 8.04, 7.98, 8.02, 8.08, 8.14, 8.08, 8.02, 7.96],
    [9.35, 9.20, 9.07, 8.83, 8.63, 8.48, 8.38, 8.38, 8.14, 7.99, 7.97, 8.07, 8.14, 8.16, 8.12, 8.18, 8.24, 8.30, 8.26, 8.20, 8.24, 8.30, 8.36, 8.30, 8.24, 8.28, 8.34, 8.30, 8.26, 8.22],
    [9.35, 9.20, 9.07, 8.83, 8.63, 8.48, 8.37, 8.36, 8.11, 7.93, 7.89, 7.96, 7.97, 7.92, 7.80, 7.76, 7.80, 7.86, 7.92, 7.88, 7.82, 7.86, 7.92, 7.96, 7.90, 7.84, 7.88, 7.94, 7.98, 7.92],
    [9.35, 9.20, 9.07, 8.83, 8.63, 8.48, 8.38, 8.38, 8.13, 7.97, 7.95, 8.04, 8.09, 8.10, 8.04, 8.10, 8.16, 8.22, 8.18, 8.14, 8.18, 8.24, 8.30, 8.24, 8.18, 8.12, 8.16, 8.22, 8.28, 8.24],
    [9.35, 9.20, 9.07, 8.83, 8.63, 8.48, 8.38, 8.37, 8.12, 7.96, 7.93, 8.01, 8.04, 8.02, 7.94, 7.98, 8.02, 8.06, 8.02, 7.96, 7.90, 7.94, 8.00, 8.06, 8.02, 7.96, 8.00, 8.06, 8.02, 7.98],
    [9.35, 9.20, 9.07, 8.83, 8.63, 8.48, 8.38, 8.39, 8.15, 8.01, 8.00, 8.11, 8.18, 8.22, 8.18, 8.24, 8.30, 8.36, 8.32, 8.28, 8.32, 8.38, 8.34, 8.28, 8.32, 8.38, 8.44, 8.40, 8.36, 8.40],
]
clim_2020_runs = [
    [9.35, 9.20, 9.07, 8.83, 8.63, 8.48, 8.38, 8.38, 8.14, 8.00, 7.98, 8.08, 8.14, 8.18, 8.10, 8.15, 8.22, 8.30, 8.36, 8.40, 8.42, 8.38, 8.35, 8.40, 8.46, 8.50, 8.48, 8.44, 8.46, 8.50],
    [9.35, 9.20, 9.07, 8.83, 8.63, 8.48, 8.37, 8.36, 8.12, 7.96, 7.93, 8.02, 8.05, 8.02, 7.95, 7.92, 7.88, 7.84, 7.80, 7.76, 7.72, 7.74, 7.78, 7.82, 7.78, 7.76, 7.73, 7.72, 7.68, 7.65],
    [9.35, 9.20, 9.07, 8.83, 8.63, 8.48, 8.38, 8.39, 8.15, 8.02, 8.01, 8.12, 8.20, 8.27, 8.20, 8.28, 8.36, 8.42, 8.48, 8.52, 8.50, 8.46, 8.42, 8.45, 8.50, 8.56, 8.60, 8.58, 8.54, 8.52],
    [9.35, 9.20, 9.07, 8.83, 8.63, 8.48, 8.37, 8.37, 8.13, 7.97, 7.94, 8.04, 8.08, 8.06, 8.00, 8.04, 8.10, 8.16, 8.20, 8.22, 8.18, 8.14, 8.18, 8.22, 8.26, 8.30, 8.26, 8.22, 8.18, 8.14],
    [9.35, 9.20, 9.07, 8.83, 8.63, 8.48, 8.38, 8.38, 8.13, 7.98, 7.95, 8.05, 8.10, 8.08, 8.00, 8.06, 8.12, 8.18, 8.24, 8.28, 8.32, 8.36, 8.32, 8.28, 8.30, 8.34, 8.38, 8.42, 8.40, 8.38],
    [9.35, 9.20, 9.07, 8.83, 8.63, 8.48, 8.37, 8.36, 8.11, 7.94, 7.90, 7.98, 8.00, 7.96, 7.86, 7.84, 7.82, 7.80, 7.76, 7.73, 7.75, 7.80, 7.86, 7.90, 7.86, 7.80, 7.76, 7.74, 7.74, 7.74],
    [9.35, 9.20, 9.07, 8.83, 8.63, 8.48, 8.38, 8.39, 8.14, 8.01, 8.00, 8.10, 8.16, 8.20, 8.16, 8.22, 8.28, 8.32, 8.30, 8.26, 8.22, 8.26, 8.30, 8.36, 8.42, 8.48, 8.52, 8.56, 8.60, 8.62],
    [9.35, 9.20, 9.07, 8.83, 8.63, 8.48, 8.38, 8.37, 8.12, 7.96, 7.92, 8.00, 8.04, 8.00, 7.92, 7.96, 8.02, 8.06, 8.10, 8.06, 8.02, 7.98, 8.02, 8.06, 8.10, 8.06, 8.02, 7.98, 8.02, 8.06],
    [9.35, 9.20, 9.07, 8.83, 8.63, 8.48, 8.38, 8.38, 8.13, 7.98, 7.96, 8.06, 8.12, 8.12, 8.06, 8.12, 8.18, 8.24, 8.28, 8.34, 8.38, 8.42, 8.46, 8.42, 8.38, 8.36, 8.34, 8.36, 8.40, 8.44],
    [9.35, 9.20, 9.07, 8.83, 8.63, 8.48, 8.37, 8.36, 8.11, 7.94, 7.89, 7.96, 7.98, 7.94, 7.84, 7.80, 7.80, 7.82, 7.80, 7.78, 7.76, 7.80, 7.86, 7.92, 7.88, 7.84, 7.80, 7.78, 7.76, 7.74],
    [9.35, 9.20, 9.07, 8.83, 8.63, 8.48, 8.38, 8.38, 8.14, 7.99, 7.97, 8.06, 8.10, 8.10, 8.04, 8.10, 8.18, 8.26, 8.34, 8.40, 8.46, 8.50, 8.54, 8.60, 8.64, 8.60, 8.56, 8.62, 8.66, 8.70],
    [9.35, 9.20, 9.07, 8.83, 8.63, 8.48, 8.38, 8.37, 8.12, 7.97, 7.94, 8.03, 8.06, 8.04, 7.96, 7.98, 8.02, 8.06, 8.02, 7.98, 7.94, 7.96, 8.00, 8.04, 8.00, 7.96, 7.92, 7.90, 7.94, 7.98],
    [9.35, 9.20, 9.07, 8.83, 8.63, 8.48, 8.38, 8.39, 8.16, 8.04, 8.03, 8.14, 8.22, 8.30, 8.24, 8.30, 8.38, 8.46, 8.42, 8.36, 8.40, 8.46, 8.52, 8.46, 8.40, 8.44, 8.50, 8.56, 8.50, 8.46],
    [9.35, 9.20, 9.07, 8.83, 8.63, 8.48, 8.37, 8.36, 8.11, 7.93, 7.88, 7.95, 7.97, 7.93, 7.83, 7.82, 7.86, 7.92, 7.96, 7.92, 7.86, 7.90, 7.96, 8.02, 7.96, 7.90, 7.94, 8.00, 7.96, 7.90],
    [9.35, 9.20, 9.07, 8.83, 8.63, 8.48, 8.38, 8.38, 8.13, 7.98, 7.96, 8.06, 8.11, 8.10, 8.04, 8.10, 8.16, 8.20, 8.16, 8.22, 8.28, 8.24, 8.18, 8.22, 8.28, 8.34, 8.30, 8.24, 8.28, 8.34],
    [9.35, 9.20, 9.07, 8.83, 8.63, 8.48, 8.37, 8.37, 8.12, 7.95, 7.91, 7.99, 8.02, 7.99, 7.90, 7.94, 7.98, 8.04, 8.08, 8.12, 8.08, 8.02, 8.06, 8.12, 8.18, 8.14, 8.08, 8.12, 8.18, 8.22],
    [9.35, 9.20, 9.07, 8.83, 8.63, 8.48, 8.38, 8.38, 8.14, 7.99, 7.97, 8.07, 8.13, 8.15, 8.08, 8.14, 8.22, 8.28, 8.32, 8.28, 8.22, 8.26, 8.32, 8.38, 8.34, 8.28, 8.32, 8.38, 8.44, 8.40],
    [9.35, 9.20, 9.07, 8.83, 8.63, 8.48, 8.37, 8.36, 8.11, 7.94, 7.90, 7.97, 7.99, 7.95, 7.86, 7.80, 7.78, 7.76, 7.80, 7.84, 7.80, 7.76, 7.80, 7.86, 7.82, 7.78, 7.82, 7.86, 7.82, 7.78],
    [9.35, 9.20, 9.07, 8.83, 8.63, 8.48, 8.38, 8.37, 8.13, 7.97, 7.94, 8.03, 8.07, 8.05, 7.98, 8.04, 8.08, 8.12, 8.08, 8.14, 8.20, 8.16, 8.10, 8.14, 8.20, 8.16, 8.12, 8.18, 8.24, 8.20],
    [9.35, 9.20, 9.07, 8.83, 8.63, 8.48, 8.38, 8.39, 8.15, 8.02, 8.01, 8.11, 8.18, 8.24, 8.18, 8.24, 8.32, 8.38, 8.44, 8.40, 8.34, 8.38, 8.44, 8.50, 8.46, 8.40, 8.44, 8.48, 8.54, 8.58],
]

# ensemble means (thick lines)
mean_2063_std = [9.26, 9.29, 9.27, 9.30, 9.33, 9.27, 9.22, 9.20, 9.17, 9.26, 9.25, 9.12, 9.10, 9.13, 9.15, 9.14, 9.06, 8.94, 8.89, 8.88, 8.86, 8.85, 8.82, 8.79, 8.77, 8.75, 8.74, 8.76, 8.78, 8.81]
mean_black = [9.26, 9.29, 9.27, 9.30, 9.33, 9.27, 9.22, 9.20, 9.17, 9.27, 9.26, 9.12, 9.10, 9.13, 9.19, 9.17, 9.08, 8.94, 8.89, 8.90, 8.93, 8.92, 8.90, 8.85, 8.80, 8.76, 8.74, 8.72, 8.73, 8.74]
mean_2044_clim = [8.76, 8.73, 8.66, 8.44, 8.22, 8.17, 8.41, 8.58, 8.72, 8.82, 8.80, 8.77, 8.66, 8.52, 8.41, 8.36, 8.37, 8.34, 8.32, 8.25, 8.26, 8.33, 8.40, 8.46, 8.51, 8.55, 8.55, 8.55, 8.55, 8.55]
mean_2044_std = [8.77, 8.74, 8.67, 8.46, 8.24, 8.19, 8.43, 8.60, 8.73, 8.84, 8.82, 8.80, 8.70, 8.56, 8.44, 8.36, 8.35, 8.32, 8.31, 8.27, 8.28, 8.33, 8.38, 8.43, 8.43, 8.42, 8.43, 8.44, 8.45, 8.47]
mean_2020_std = [9.35, 9.20, 9.07, 8.83, 8.63, 8.48, 8.38, 8.37, 8.13, 7.97, 7.95, 8.04, 8.07, 8.04, 7.98, 8.05, 8.10, 8.15, 8.17, 8.17, 8.17, 8.18, 8.20, 8.21, 8.22, 8.23, 8.24, 8.25, 8.26, 8.28]
mean_2020_clim = [9.35, 9.20, 9.07, 8.83, 8.63, 8.48, 8.38, 8.37, 8.13, 7.98, 7.96, 8.05, 8.08, 8.05, 8.02, 8.08, 8.15, 8.21, 8.27, 8.30, 8.30, 8.30, 8.30, 8.31, 8.32, 8.33, 8.35, 8.36, 8.38, 8.39]

legend_lines = ['CTRL (grey)',
                '2063 std (green) and clim (yellow)',
                '2044 std (blue) and clim (red)',
                '2020 std (cyan) and clim (magenta)']


def runs_frame(runs):
    rows = [(m, d, v) for m, run in enumerate(runs) for d, v in zip(days, run)]
    return pd.DataFrame(rows, columns=['member', 'day', 'temp'])


def draw_runs(ax, runs, color, lw=0.8):
    sns.lineplot(data=runs_frame(runs), x='day', y='temp', units='member',
                 estimator=None, color=color, lw=lw, ax=ax, legend=False)


sns.set_style('white')
plt.rcParams['font.family'] = ['DejaVu Sans']

fig = plt.figure(figsize=(18.39, 10.37), dpi=100)
ax = fig.add_axes([0.0498, 0.0611, 0.9388, 0.9238])

draw_runs(ax, ctrl_runs, '#4a4a4a')
draw_runs(ax, clim_2063_runs, '#ffff00')
draw_runs(ax, std_2063_runs, '#2f7a2a')
draw_runs(ax, clim_2044_runs, '#ff0000')
draw_runs(ax, std_2044_runs, '#1f1fc8')
draw_runs(ax, std_2020_runs, '#00ffff')
draw_runs(ax, clim_2020_runs, '#ff00ff')

sns.lineplot(x=days, y=mean_2044_clim, color='#ff0000', lw=3.6, ax=ax)
sns.lineplot(x=days, y=mean_2044_std, color='#0000ff', lw=3.6, ax=ax)
sns.lineplot(x=days, y=mean_2020_std, color='#00ffff', lw=3.6, ax=ax)
sns.lineplot(x=days, y=mean_2020_clim, color='#ff00ff', lw=3.6, ax=ax)
sns.lineplot(x=days, y=mean_2063_std, color='#00ff00', lw=4.0, ax=ax)
sns.lineplot(x=days, y=mean_black, color='#000000', lw=3.0, ax=ax)

for i, txt in enumerate(legend_lines):
    ax.text(1.974, 8.095 - 0.099 * i, txt, fontsize=14.5, color='#262626',
            va='center', ha='left')

ax.set_xlim(1, 30)
ax.set_ylim(7, 10)
ax.set_xticks([5, 10, 15, 20, 25, 30])
ax.set_yticks([7, 7.5, 8, 8.5, 9, 9.5, 10])
ax.set_yticklabels(['7', '7.5', '8', '8.5', '9', '9.5', '10'])
ax.tick_params(direction='in', length=11, width=1, color='#4d4d4d',
               labelsize=14.5, labelcolor='#333333',
               top=True, right=True, bottom=True, left=True, pad=8)
for s in ax.spines.values():
    s.set_color('#4d4d4d')
    s.set_linewidth(1.2)
ax.set_xlabel('day', fontsize=14.5, color='#333333', labelpad=4)
ax.set_ylabel(r'Air temperature ($^{\mathrm{o}}$C)', fontsize=16,
              color='#333333', labelpad=5)

fig.savefig('out.png', dpi=100)
